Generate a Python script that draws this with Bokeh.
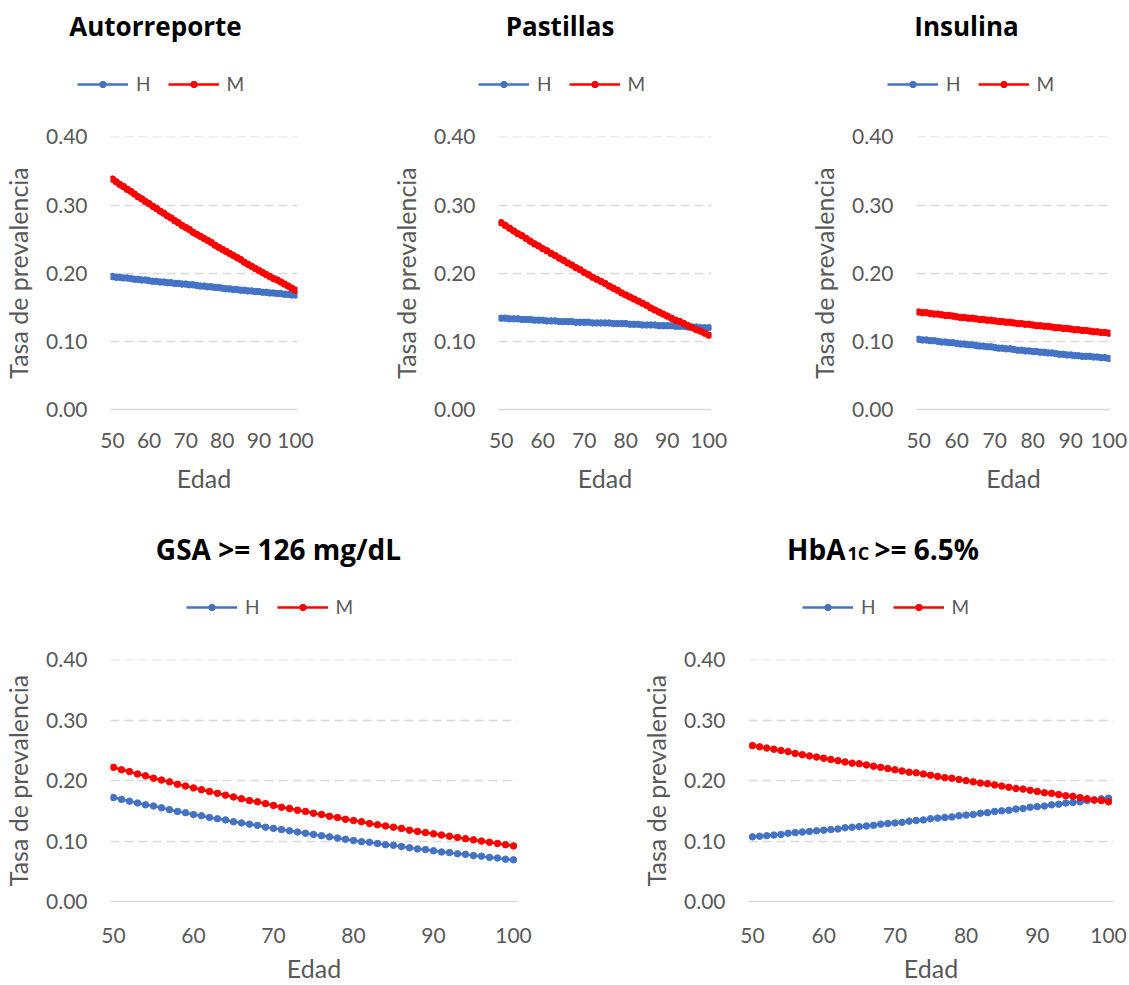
from bokeh.plotting import figure
from bokeh.layouts import column, row
from bokeh.models import (FixedTicker, NumeralTickFormatter, Label, Legend,
                          LegendItem, Range1d)
from bokeh.embed import file_html
from bokeh.resources import INLINE

# Edad (años)
edad = list(range(50, 101))

# Tasa de prevalencia estimada por edad, H = hombres, M = mujeres
autorreporte_h = [0.195, 0.194, 0.194, 0.193, 0.193, 0.192, 0.191, 0.191, 0.190, 0.190,
                  0.189, 0.188, 0.188, 0.187, 0.187, 0.186, 0.186, 0.185, 0.185, 0.184,
                  0.184, 0.183, 0.183, 0.182, 0.181, 0.181, 0.180, 0.180, 0.179, 0.179,
                  0.178, 0.177, 0.177, 0.176, 0.176, 0.175, 0.175, 0.174, 0.174, 0.173,
                  0.173, 0.172, 0.172, 0.171, 0.171, 0.170, 0.170, 0.169, 0.169, 0.168, 0.168]
autorreporte_m = [0.338, 0.334, 0.330, 0.327, 0.323, 0.320, 0.316, 0.312, 0.309, 0.305,
                  0.302, 0.298, 0.295, 0.291, 0.288, 0.284, 0.281, 0.277, 0.274, 0.270,
                  0.267, 0.264, 0.260, 0.257, 0.254, 0.251, 0.248, 0.245, 0.241, 0.238,
                  0.235, 0.232, 0.229, 0.226, 0.223, 0.220, 0.216, 0.213, 0.210, 0.207,
                  0.204, 0.201, 0.198, 0.195, 0.192, 0.190, 0.187, 0.184, 0.181, 0.178, 0.175]

pastillas_h = [0.134, 0.134, 0.133, 0.133, 0.133, 0.132, 0.132, 0.132, 0.131, 0.131,
               0.131, 0.130, 0.130, 0.130, 0.129, 0.129, 0.129, 0.129, 0.128, 0.128,
               0.128, 0.128, 0.127, 0.127, 0.127, 0.127, 0.127, 0.126, 0.126, 0.126,
               0.126, 0.125, 0.125, 0.125, 0.124, 0.124, 0.124, 0.124, 0.123, 0.123,
               0.123, 0.123, 0.122, 0.122, 0.122, 0.121, 0.121, 0.121, 0.120, 0.120, 0.120]
pastillas_m = [0.274, 0.270, 0.266, 0.262, 0.258, 0.255, 0.251, 0.247, 0.243, 0.240,
               0.236, 0.233, 0.229, 0.226, 0.222, 0.219, 0.215, 0.212, 0.208, 0.205,
               0.201, 0.198, 0.194, 0.191, 0.188, 0.185, 0.181, 0.178, 0.175, 0.171,
               0.168, 0.165, 0.162, 0.159, 0.156, 0.153, 0.149, 0.146, 0.143, 0.140,
               0.137, 0.134, 0.131, 0.129, 0.126, 0.123, 0.120, 0.117, 0.115, 0.112, 0.109]

insulina_h = [0.103, 0.102, 0.102, 0.101, 0.101, 0.100, 0.099, 0.099, 0.098, 0.098,
              0.097, 0.096, 0.096, 0.095, 0.095, 0.094, 0.093, 0.093, 0.092, 0.092,
              0.091, 0.090, 0.090, 0.089, 0.089, 0.088, 0.087, 0.087, 0.086, 0.086,
              0.085, 0.085, 0.084, 0.084, 0.083, 0.083, 0.082, 0.081, 0.081, 0.080,
              0.080, 0.079, 0.079, 0.078, 0.078, 0.078, 0.077, 0.077, 0.076, 0.076, 0.075]
insulina_m = [0.143, 0.142, 0.142, 0.141, 0.140, 0.140, 0.139, 0.138, 0.138, 0.137,
              0.136, 0.135, 0.135, 0.134, 0.134, 0.133, 0.132, 0.132, 0.131, 0.131,
              0.130, 0.129, 0.129, 0.128, 0.128, 0.127, 0.126, 0.126, 0.125, 0.125,
              0.124, 0.123, 0.123, 0.122, 0.122, 0.121, 0.120, 0.120, 0.119, 0.119,
              0.118, 0.117, 0.117, 0.116, 0.116, 0.115, 0.114, 0.114, 0.113, 0.113, 0.112]

gsa_h = [0.172, 0.169, 0.166, 0.163, 0.160, 0.158, 0.155, 0.152, 0.149, 0.147,
         0.144, 0.142, 0.139, 0.137, 0.135, 0.132, 0.130, 0.128, 0.126, 0.123,
         0.121, 0.119, 0.117, 0.115, 0.113, 0.111, 0.109, 0.107, 0.105, 0.103,
         0.101, 0.099, 0.098, 0.096, 0.094, 0.093, 0.091, 0.089, 0.087, 0.086,
         0.084, 0.082, 0.081, 0.079, 0.078, 0.076, 0.075, 0.073, 0.072, 0.070, 0.069]
gsa_m = [0.222, 0.218, 0.215, 0.211, 0.208, 0.204, 0.201, 0.198, 0.194, 0.191,
         0.188, 0.185, 0.182, 0.179, 0.176, 0.173, 0.170, 0.167, 0.165, 0.162,
         0.159, 0.156, 0.154, 0.151, 0.149, 0.146, 0.144, 0.141, 0.139, 0.136,
         0.134, 0.132, 0.129, 0.127, 0.125, 0.123, 0.121, 0.118, 0.116, 0.114,
         0.112, 0.110, 0.108, 0.106, 0.104, 0.102, 0.100, 0.098, 0.096, 0.094, 0.092]

hba1c_h = [0.107, 0.108, 0.109, 0.110, 0.111, 0.113, 0.114, 0.115, 0.116, 0.117,
           0.118, 0.119, 0.120, 0.122, 0.123, 0.124, 0.125, 0.126, 0.128, 0.129,
           0.130, 0.131, 0.133, 0.134, 0.135, 0.137, 0.138, 0.139, 0.140, 0.142,
           0.143, 0.144, 0.146, 0.147, 0.149, 0.150, 0.151, 0.153, 0.154, 0.156,
           0.157, 0.158, 0.160, 0.161, 0.163, 0.164, 0.165, 0.167, 0.168, 0.170, 0.171]
hba1c_m = [0.258, 0.256, 0.254, 0.252, 0.250, 0.248, 0.245, 0.243, 0.241, 0.239,
           0.237, 0.235, 0.233, 0.231, 0.229, 0.228, 0.226, 0.224, 0.222, 0.220,
           0.218, 0.216, 0.214, 0.213, 0.211, 0.209, 0.207, 0.205, 0.204, 0.202,
           0.200, 0.198, 0.196, 0.195, 0.193, 0.191, 0.189, 0.187, 0.186, 0.184,
           0.182, 0.180, 0.179, 0.177, 0.175, 0.174, 0.172, 0.170, 0.168, 0.167, 0.165]

y_ticks = [0.0, 0.1, 0.2, 0.3, 0.4]
x_ticks = [50, 60, 70, 80, 90, 100]

AZUL = "#4472C4"
ROJO = "#FF0000"
GRIS_TEXTO = "#595959"
GRIS_LINEA = "#D9D9D9"
FUENTE = "Lato"
FUENTE_TITULO = "Open Sans"
ANCHO = 1129


def encabezado(hh, titulos, leyendas, serie_h, serie_m):
    """Franja con los títulos y las leyendas de una fila de gráficos."""
    p = figure(width=ANCHO, height=hh, x_range=Range1d(0, ANCHO), y_range=Range1d(0, hh),
               output_backend="svg", toolbar_location=None, tools="",
               x_axis_location=None, y_axis_location=None,
               min_border=0, outline_line_color=None,
               background_fill_color="white", border_fill_color="white")
    p.xgrid.visible = False
    p.ygrid.visible = False

    for texto, tx, ty, fs, align in titulos:
        p.add_layout(Label(x=tx, y=ty, x_units="screen", y_units="screen", text=texto,
                           text_font=FUENTE_TITULO, text_font_style="bold",
                           text_font_size=f"{fs}px", text_color="black",
                           text_align=align, text_baseline="alphabetic"))

    # series ocultas: solo aportan el estilo de las muestras de la leyenda
    lh = p.line(edad, serie_h, color=AZUL, line_width=2.5, visible=False)
    sh = p.scatter(edad, serie_h, color=AZUL, size=6.5, visible=False)
    lm = p.line(edad, serie_m, color=ROJO, line_width=2.5, visible=False)
    sm = p.scatter(edad, serie_m, color=ROJO, size=6.5, visible=False)
    for lx, ly in leyendas:
        legend = Legend(items=[LegendItem(label="H", renderers=[lh, sh]),
                               LegendItem(label="M", renderers=[lm, sm])],
                        orientation="horizontal", location=(lx, ly - 11),
                        glyph_width=51, glyph_height=16, label_standoff=8,
                        label_width=0, spacing=17,
                        padding=0, margin=0, border_line_color=None,
                        background_fill_alpha=0, inactive_fill_alpha=0,
                        label_text_font=FUENTE, label_text_font_size="19px",
                        label_text_color=GRIS_TEXTO)
        p.add_layout(legend)
    return p


def grafico(h_vals, m_vals, size, borders, xr, x_standoffs):
    w, h = size
    bl, br, bt, bb = borders
    p = figure(width=w, height=h, x_range=Range1d(*xr), y_range=Range1d(0, 0.4005),
               output_backend="svg", toolbar_location=None, tools="",
               min_border_left=bl, min_border_right=br,
               min_border_top=bt, min_border_bottom=bb,
               outline_line_color=None, background_fill_color="white",
               border_fill_color="white")

    # ejes
    p.xaxis.ticker = FixedTicker(ticks=x_ticks)
    p.yaxis.ticker = FixedTicker(ticks=y_ticks)
    p.yaxis.formatter = NumeralTickFormatter(format="0.00")
    for ax in (p.xaxis[0], p.yaxis[0]):
        ax.major_tick_line_color = None
        ax.minor_tick_line_color = None
        ax.major_tick_out = 0
        ax.major_tick_in = 0
        ax.minor_tick_out = 0
        ax.minor_tick_in = 0
        ax.major_label_text_font = FUENTE
        ax.major_label_text_font_size = "21px"
        ax.major_label_text_color = GRIS_TEXTO
        ax.axis_label_text_font = FUENTE
        ax.axis_label_text_font_size = "25px"
        ax.axis_label_text_font_style = "normal"
        ax.axis_label_text_color = GRIS_TEXTO
    p.xaxis.axis_label = "Edad"
    p.yaxis.axis_label = "Tasa de prevalencia"
    p.yaxis.axis_line_color = None
    p.xaxis.axis_line_color = GRIS_LINEA
    p.xaxis.axis_line_width = 1.5
    p.xaxis.major_label_standoff = x_standoffs[0]
    p.xaxis.axis_label_standoff = x_standoffs[1]
    p.yaxis.major_label_standoff = 23
    p.yaxis.axis_label_standoff = 10

    # rejilla
    p.xgrid.grid_line_color = None
    p.ygrid.ticker = FixedTicker(ticks=y_ticks)
    p.ygrid.grid_line_color = GRIS_LINEA
    p.ygrid.grid_line_width = 1.5
    p.ygrid.grid_line_dash = "9 5"

    # series
    p.line(edad, h_vals, color=AZUL, line_width=2.5)
    p.scatter(edad, h_vals, color=AZUL, size=6.5)
    p.line(edad, m_vals, color=ROJO, line_width=2.5)
    p.scatter(edad, m_vals, color=ROJO, size=6.5)
    return p


# fila superior
cab_sup = encabezado(110,
                     [("Autorreporte", 155, 85, 26, "center"),
                      ("Pastillas", 559.5, 85, 26, "center"),
                      ("Insulina", 966, 85, 26, "center")],
                     [(77, 26), (478, 26), (887, 26)],
                     autorreporte_h, autorreporte_m)
pA = grafico(autorreporte_h, autorreporte_m, (380, 390), (110, 83, 26, 91),
             (49.45, 100.55), (23, 12))
pB = grafico(pastillas_h, pastillas_m, (380, 390), (118, 49, 26, 89),
             (49.35, 100.65), (23, 12))
pC = grafico(insulina_h, insulina_m, (369, 390), (156, 19, 26, 91),
             (49.4, 100.45), (23, 12))

# fila inferior
cab_inf = encabezado(130,
                     [("GSA >= 126 mg/dL", 278, 82, 28, "center"),
                      ("HbA", 845, 82, 28, "right"),
                      ("1C", 847, 78, 18, "left"),
                      (">= 6.5%", 874, 82, 28, "left")],
                     [(186, 23), (802, 23)],
                     gsa_h, gsa_m)
pD = grafico(gsa_h, gsa_m, (560, 355), (110, 43, 29, 80), (49.625, 100.5), (26, 7))
pE = grafico(hba1c_h, hba1c_m, (569, 355), (188, 16, 29, 80), (49.44, 100.7), (26, 7))

layout = column(cab_sup, row(pA, pB, pC), cab_inf, row(pD, pE))

with open("out.html", "w") as f:
    f.write(file_html(layout, INLINE))
